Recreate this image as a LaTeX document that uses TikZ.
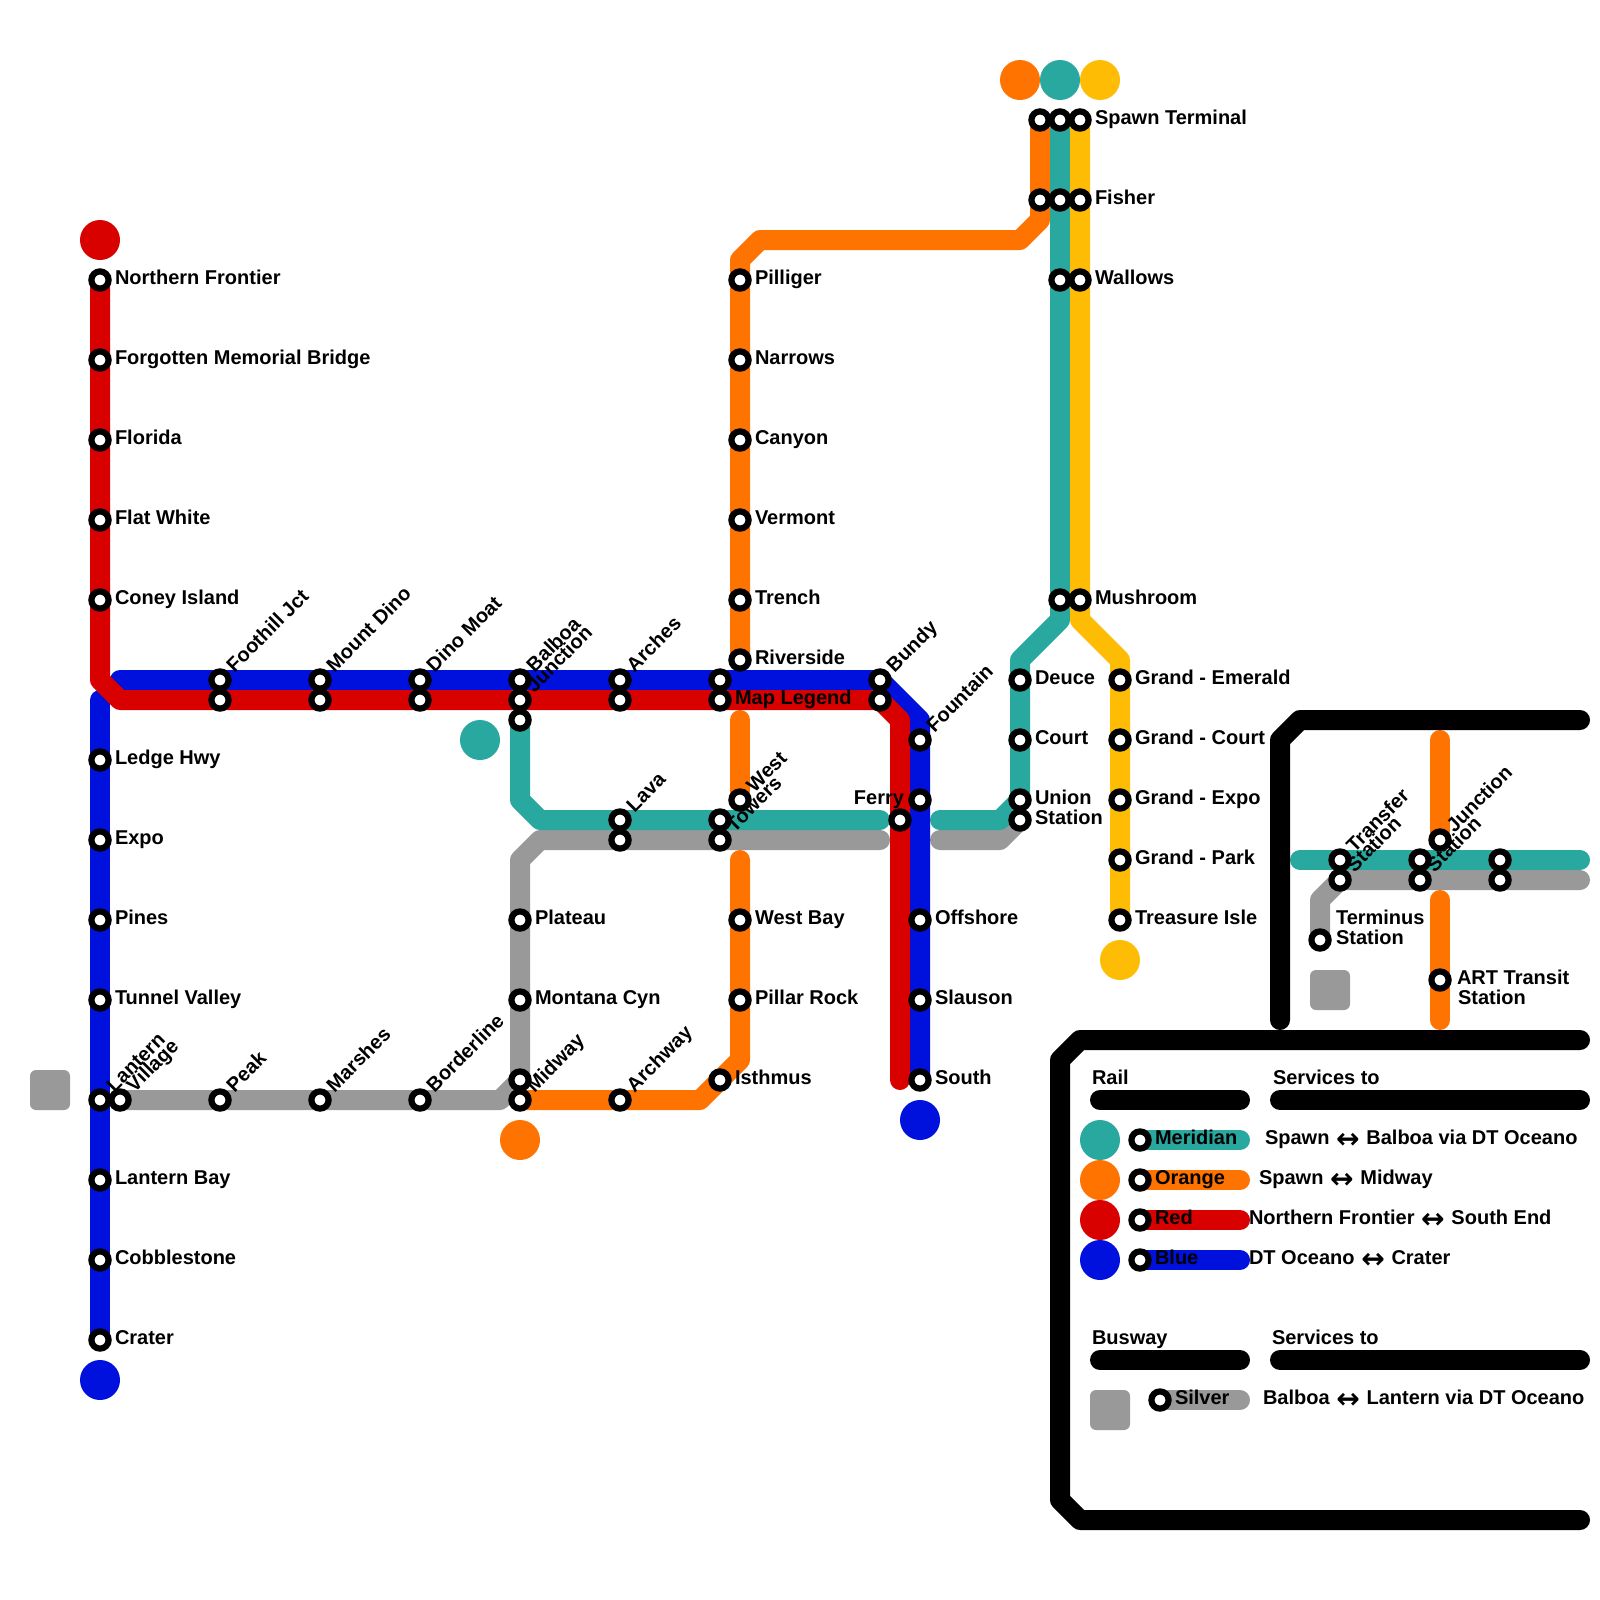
\documentclass[tikz,border=0pt]{standalone}
\usepackage{fontspec}
\setmainfont{Liberation Sans}
\newfontfamily\arrfont{DejaVu Sans}
\usetikzlibrary{backgrounds}
\definecolor{cteal}{HTML}{29A89F}
\definecolor{corange}{HTML}{FF7300}
\definecolor{cred}{HTML}{D90000}
\definecolor{cblue}{HTML}{0010DD}
\definecolor{csilver}{HTML}{999999}
\definecolor{cyellow}{HTML}{FFBC05}
\tikzset{
  ln/.style={line width=.5cm,line cap=round,line join=round},
  stn/.style={circle,draw=black,fill=white,line width=.155cm,minimum size=.43cm,inner sep=0pt,outer sep=0pt},
  term/.style={circle,minimum size=1cm,inner sep=0pt,outer sep=0pt},
  sq/.style={rectangle,fill=csilver,minimum size=1cm,inner sep=0pt,outer sep=0pt,rounded corners=.15cm},
  lab/.style={inner sep=0pt,outer sep=0pt,font=\fontsize{14.226}{20}\selectfont\bfseries,anchor=base west},
}
\newcommand{\sP}[3]{\node[stn] (#1) at (#2,#3) {};}
\newcommand{\sE}[4]{\sP{#1}{#2}{#3}\node[lab] (#1-t) at ([xshift=.375cm,yshift=-.11cm]#1.center) {#4};}
\newcommand{\sN}[4]{\sP{#1}{#2}{#3}\node[lab,rotate=45] (#1-t) at ([xshift=.3625cm,yshift=.175cm]#1.center) {#4};}
\newcommand{\txt}[4]{\node[lab] (#1) at (#2/20,#3/20) {#4};}
\newcommand{\arr}{\kern.8pt\raisebox{-2.6pt}{\arrfont\fontsize{20}{20}\selectfont ↔}\kern.8pt}
\begin{document}
\begin{tikzpicture}[x=.5cm,y=-.5cm]
\useasboundingbox (0,0) rectangle (80,80);
% red
\sE{nf}{5}{14}{Northern Frontier}
\sE{fmb}{5}{18}{Forgotten Memorial Bridge}
\sE{flo}{5}{22}{Florida}
\sE{flw}{5}{26}{Flat White}
\sE{con}{5}{30}{Coney Island}
\sN{fjb}{11}{34}{Foothill Jct}\sP{fjr}{11}{35}
\sN{mdb}{16}{34}{Mount Dino}\sP{mdr}{16}{35}
\sN{dmb}{21}{34}{Dino Moat}\sP{dmr}{21}{35}
\sN{bal}{26}{34}{Balboa}\sN{jun}{26}{35}{Junction}\sP{balt}{26}{36}
\sN{arb}{31}{34}{Arches}\sP{arr}{31}{35}
\sP{mlb}{36}{34}\sE{mlr}{36}{35}{Map Legend}
\sN{bub}{44}{34}{Bundy}\sP{bur}{44}{35}
\sP{fer}{45}{41}
% blue
\sE{led}{5}{38}{Ledge Hwy}
\sE{exp}{5}{42}{Expo}
\sE{pin}{5}{46}{Pines}
\sE{tun}{5}{50}{Tunnel Valley}
\sN{lan}{5}{55}{Lantern}
\sE{lby}{5}{59}{Lantern Bay}
\sE{cob}{5}{63}{Cobblestone}
\sE{cra}{5}{67}{Crater}
\sN{fou}{46}{37}{Fountain}
\sP{bfe}{46}{40}\node[lab,anchor=base east] (bfe-t) at ([xshift=-.4cm,yshift=-.11cm]bfe.center) {Ferry};
\sE{off}{46}{46}{Offshore}
\sE{sla}{46}{50}{Slauson}
\sE{sou}{46}{54}{South}
% silver
\sN{vil}{6}{55}{Village}
\sN{pea}{11}{55}{Peak}
\sN{mar}{16}{55}{Marshes}
\sN{bor}{21}{55}{Borderline}
\sP{mis}{26}{54}
\sE{mon}{26}{50}{Montana Cyn}
\sE{pla}{26}{46}{Plateau}
\sP{las}{31}{42}\sN{lat}{31}{41}{Lava}
\sN{tos}{36}{42}{Towers}\sP{tot}{36}{41}
% orange
\sN{mid}{26}{55}{Midway}
\sN{ach}{31}{55}{Archway}
\sE{ist}{36}{54}{Isthmus}
\sE{plr}{37}{50}{Pillar Rock}
\sE{wby}{37}{46}{West Bay}
\sN{wes}{37}{40}{West}
\sE{riv}{37}{33}{Riverside}
\sE{tre}{37}{30}{Trench}
\sE{ver}{37}{26}{Vermont}
\sE{can}{37}{22}{Canyon}
\sE{nar}{37}{18}{Narrows}
\sE{pil}{37}{14}{Pilliger}
\sP{so}{52}{6}\sP{fo}{52}{10}
% teal
\sP{st}{53}{6}\sP{ft}{53}{10}\sP{wt}{53}{14}\sP{mt}{53}{30}
\sE{deu}{51}{34}{Deuce}
\sE{cou}{51}{37}{Court}
\sE{uni}{51}{40}{Union}
\sE{ust}{51}{41}{Station}
% yellow
\sE{sy}{54}{6}{Spawn Terminal}
\sE{fy}{54}{10}{Fisher}
\sE{wy}{54}{14}{Wallows}
\sE{my}{54}{30}{Mushroom}
\sE{gem}{56}{34}{Grand - Emerald}
\sE{gco}{56}{37}{Grand - Court}
\sE{gex}{56}{40}{Grand - Expo}
\sE{gpa}{56}{43}{Grand - Park}
\sE{tis}{56}{46}{Treasure Isle}
% inset
\sN{tr1}{67}{43}{Transfer}\sN{tr2}{67}{44}{Station}
\sP{m1}{71}{43}\sN{m2}{71}{44}{Station}
\sP{e1}{75}{43}\sP{e2}{75}{44}
\sN{ju}{72}{42}{Junction}
\sP{ter}{66}{47}
\txt{tert1}{1336}{924}{Terminus}
\txt{tert2}{1336}{944}{Station}
\sP{artn}{72}{49}
\txt{artt1}{1457}{984}{ART Transit}
\txt{artt2}{1458}{1004}{Station}
% legend
\sP{lgt}{57}{57}\sP{lgo}{57}{59}\sP{lgr}{57}{61}\sP{lgb}{57}{63}\sP{lgs}{58}{70}
\node[lab] (lgt-t) at ([xshift=.375cm,yshift=-.11cm]lgt.center) {Meridian};
\node[lab] (lgo-t) at ([xshift=.375cm,yshift=-.11cm]lgo.center) {Orange};
\node[lab] (lgr-t) at ([xshift=.375cm,yshift=-.11cm]lgr.center) {Red};
\node[lab] (lgb-t) at ([xshift=.375cm,yshift=-.11cm]lgb.center) {Blue};
\node[lab] (lgs-t) at ([xshift=.375cm,yshift=-.11cm]lgs.center) {Silver};
\txt{railt}{1092}{1084}{Rail}
\txt{servt}{1273}{1084}{Services to}
\txt{bust}{1092}{1344}{Busway}
\txt{sert}{1272}{1344}{Services to}
\txt{d1}{1265}{1144.5}{Spawn \arr{} Balboa via DT Oceano}
\txt{d2}{1259}{1184.5}{Spawn \arr{} Midway}
\txt{d3}{1249}{1224.5}{Northern Frontier \arr{} South End}
\txt{d4}{1249}{1264.5}{DT Oceano \arr{} Crater}
\txt{d5}{1263}{1404.5}{Balboa \arr{} Lantern via DT Oceano}
\begin{pgfonlayer}{background}
\fill[white] (0,0) rectangle (80,80);
% terminals and squares
\node[term,fill=cred] (tred) at (5,12) {};
\node[term,fill=cblue] (tblue1) at (5,69) {};
\node[term,fill=cblue] (tblue2) at (46,56) {};
\node[term,fill=corange] (tor1) at (51,4) {};
\node[term,fill=cteal] (tte1) at (53,4) {};
\node[term,fill=cyellow] (tye1) at (55,4) {};
\node[term,fill=cteal] (tte2) at (24,37) {};
\node[term,fill=corange] (tor2) at (26,57) {};
\node[term,fill=cyellow] (tye2) at (56,48) {};
\node[sq] (sq1) at (2.5,54.5) {};
\node[sq] (sq2) at (66.5,49.5) {};
\node[sq] (sq3) at (55.5,70.5) {};
\node[term,fill=cteal] (lc1) at (55,57) {};
\node[term,fill=corange] (lc2) at (55,59) {};
\node[term,fill=cred] (lc3) at (55,61) {};
\node[term,fill=cblue] (lc4) at (55,63) {};
% bends
\coordinate (a1) at (5,35);\coordinate (a2) at (6,34);\coordinate (a3) at (46,36);
\coordinate (b1) at (5,34);\coordinate (b2) at (6,35);\coordinate (b3) at (45,36);\coordinate (b4) at (45,54);
\coordinate (c1) at (52,11);\coordinate (c2) at (51,12);\coordinate (c3) at (38,12);\coordinate (c4) at (37,13);
\coordinate (c5) at (37,36);\coordinate (c6) at (37,43);\coordinate (c7) at (37,53);\coordinate (c8) at (35,55);
\coordinate (d1) at (53,31);\coordinate (d2) at (51,33);\coordinate (d3) at (50,41);\coordinate (d4) at (47,41);
\coordinate (d5) at (44,41);\coordinate (d6) at (27,41);\coordinate (d7) at (26,40);
\coordinate (e1) at (25,55);\coordinate (e2) at (26,43);\coordinate (e3) at (27,42);\coordinate (e4) at (44,42);
\coordinate (e5) at (47,42);\coordinate (e6) at (50,42);
\coordinate (y1) at (54,31);\coordinate (y2) at (56,33);
\coordinate (i1) at (65,43);\coordinate (i2) at (79,43);\coordinate (i3) at (79,44);\coordinate (i4) at (67,44);
\coordinate (i5) at (66,45);\coordinate (i6) at (72,37);\coordinate (i7) at (72,45);\coordinate (i8) at (72,51);
\coordinate (k1) at (64,51);\coordinate (k2) at (64,37);\coordinate (k3) at (65,36);\coordinate (k4) at (79,36);
\coordinate (f1) at (79,52);\coordinate (f2) at (54,52);\coordinate (f3) at (53,53);\coordinate (f4) at (53,75);\coordinate (f5) at (54,76);\coordinate (f6) at (79,76);
\coordinate (g1) at (55,55);\coordinate (g2) at (62,55);\coordinate (g3) at (64,55);\coordinate (g4) at (79,55);
\coordinate (g5) at (55,68);\coordinate (g6) at (62,68);\coordinate (g7) at (64,68);\coordinate (g8) at (79,68);
\coordinate (h1) at (62,57);\coordinate (h2) at (62,59);\coordinate (h3) at (62,61);\coordinate (h4) at (62,63);\coordinate (h5) at (62,70);
% lines
\draw[ln,csilver] (vil.center) -- (e1) -- (mis.center) -- (e2) -- (e3) -- (e4);
\draw[ln,csilver] (e5) -- (e6) -- (ust.center);
\draw[ln,corange] (so.center) -- (c1) -- (c2) -- (c3) -- (c4) -- (riv.center);
\draw[ln,corange] (c5) -- (wes.center);
\draw[ln,corange] (c6) -- (c7) -- (c8) -- (mid.center);
\draw[ln,cteal] (st.center) -- (d1) -- (d2) -- (uni.center) -- (d3) -- (d4);
\draw[ln,cteal] (d5) -- (d6) -- (d7) -- (balt.center);
\draw[ln,cyellow] (sy.center) -- (y1) -- (y2) -- (tis.center);
\draw[ln,cblue] (a1) -- (cra.center);
\draw[ln,cblue] (a2) -- (bub.center) -- (a3) -- (sou.center);
\draw[ln,cred] (nf.center) -- (b1) -- (b2) -- (bur.center) -- (b3) -- (b4);
% inset
\draw[ln,csilver] (ter.center) -- (i5) -- (i4) -- (i3);
\draw[ln,cteal] (i1) -- (i2);
\draw[ln,corange] (i6) -- (ju.center);
\draw[ln,corange] (i7) -- (i8);
\draw[ln,black] (k1) -- (k2) -- (k3) -- (k4);
\draw[ln,black] (f1) -- (f2) -- (f3) -- (f4) -- (f5) -- (f6);
\draw[ln,black] (g1) -- (g2);\draw[ln,black] (g3) -- (g4);
\draw[ln,black] (g5) -- (g6);\draw[ln,black] (g7) -- (g8);
\draw[ln,cteal] (lgt.center) -- (h1);
\draw[ln,corange] (lgo.center) -- (h2);
\draw[ln,cred] (lgr.center) -- (h3);
\draw[ln,cblue] (lgb.center) -- (h4);
\draw[ln,csilver] (lgs.center) -- (h5);
\end{pgfonlayer}
\end{tikzpicture}
\end{document}
